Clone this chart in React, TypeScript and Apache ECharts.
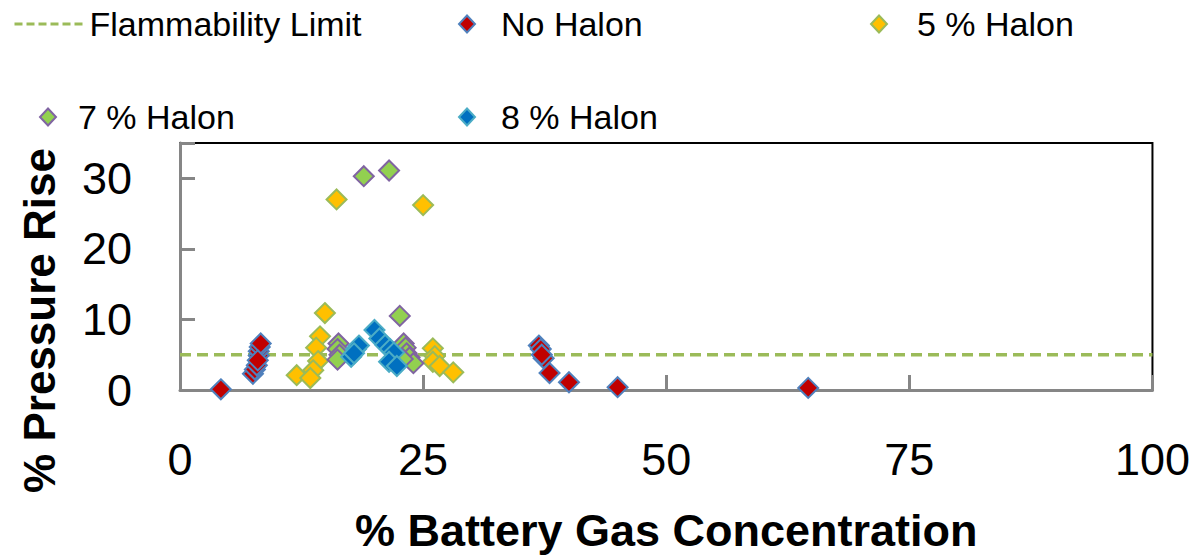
import React, { useEffect, useRef } from "react";
import * as echarts from "echarts";

const flammabilityLimit: [number, number][] = [[0, 5], [100, 5]];

const noHalon: [number, number][] = [
  [4.2, 0.1], [7.5, 2.3], [7.7, 2.9], [7.9, 3.5], [8.1, 4.9], [8.1, 5.5], [8.2, 6.1], [8.3, 6.6], [8.0, 4.2],
  [36.9, 6.3], [37.1, 5.8], [37.4, 4.5], [37.2, 5.0], [38.0, 2.4], [40.0, 1.1], [45.0, 0.4], [64.6, 0.3],
];

const halon5: [number, number][] = [
  [16.1, 27.0], [25.0, 26.2], [14.9, 10.9], [14.4, 7.6], [14.0, 6.0], [14.2, 4.1], [13.7, 2.8], [12.0, 2.1], [13.4, 1.7],
  [26.0, 5.9], [26.2, 4.8], [26.0, 4.0], [26.7, 3.4], [28.1, 2.5],
];

const halon7: [number, number][] = [
  [18.9, 30.3], [21.5, 31.1], [22.6, 10.5], [16.3, 6.6], [16.2, 5.8], [16.4, 5.0], [16.2, 4.3],
  [23.0, 6.6], [23.2, 6.0], [23.3, 5.2], [23.6, 4.6], [24.0, 3.8], [22.9, 4.4],
];

const halon8: [number, number][] = [
  [20.0, 8.5], [20.5, 7.3], [21.1, 6.4], [21.6, 5.8], [22.0, 5.3], [21.5, 4.0], [22.3, 3.4],
  [17.6, 4.7], [18.1, 5.8], [18.4, 6.3], [17.9, 5.2],
];

const seriesNames = ["Flammability Limit", "No Halon", "5 % Halon", "7 % Halon", "8 % Halon"];

const FONT = "'Liberation Sans', Arial, sans-serif";
const GREY = "#868686";

export default function App() {
  const ref = useRef<HTMLDivElement>(null);
  useEffect(() => {
    if (!ref.current) return;
    const chart = echarts.init(ref.current, null, { renderer: "svg" });
    const legendText = { fontFamily: FONT, fontSize: 34, color: "#000" };
    const mkLegend = (name: string, left: number, top: number, w: number, pad: number, extra: any = {}) => ({
      data: [name],
      left,
      top,
      itemWidth: w,
      itemHeight: name === seriesNames[0] ? 14 : 17,
      selectedMode: false,
      textStyle: { ...legendText, padding: [0, 0, 0, pad] },
      ...extra,
    });
    const scatter = (name: string, data: [number, number][], fill: string, border: string) => ({
      name,
      type: "scatter",
      data,
      symbol: "diamond",
      symbolSize: 20,
      itemStyle: { color: fill, borderColor: border, borderWidth: 2, opacity: 1 },
    });
    chart.setOption({
      animation: false,
      textStyle: { fontFamily: FONT },
      legend: [
        mkLegend(seriesNames[0], 8, 2, 70, 0, {
          itemStyle: { opacity: 0 },
          lineStyle: { type: [8, 4], width: 3 },
        }),
        mkLegend(seriesNames[1], 453, 2, 16, 21),
        mkLegend(seriesNames[2], 865, 2, 16, 25),
        mkLegend(seriesNames[3], 34, 95, 16, 17),
        mkLegend(seriesNames[4], 453, 95, 16, 21),
      ],
      grid: {
        left: 180,
        right: 38,
        top: 143,
        bottom: 169,
        show: true,
        borderColor: "#000",
        borderWidth: 2,
      },
      xAxis: {
        type: "value",
        min: 0,
        max: 100,
        interval: 25,
        name: "% Battery Gas Concentration",
        nameLocation: "middle",
        nameGap: 118,
        nameTextStyle: { fontFamily: FONT, fontSize: 45, fontWeight: "bold", color: "#000" },
        axisLine: { show: true, lineStyle: { color: GREY, width: 3 } },
        axisTick: { show: true, inside: true, length: 15, lineStyle: { color: GREY, width: 3 } },
        axisLabel: { fontFamily: FONT, fontSize: 45, color: "#000", margin: 47 },
        splitLine: { show: false },
      },
      yAxis: {
        type: "value",
        min: 0,
        max: 35,
        interval: 10,
        name: "% Pressure Rise",
        nameLocation: "middle",
        nameGap: 119,
        nameTextStyle: {
          fontFamily: FONT,
          fontSize: 44,
          fontWeight: "bold",
          color: "#000",
          padding: [0, 108, 0, 0],
        },
        axisLine: { show: true, lineStyle: { color: GREY, width: 3 } },
        axisTick: { show: true, inside: true, length: 15, lineStyle: { color: GREY, width: 3 } },
        axisLabel: {
          fontFamily: FONT,
          fontSize: 45,
          color: "#000",
          margin: 48,
          formatter: (v: number) => (v % 10 === 0 ? String(v) : ""),
        },
        splitLine: { show: false },
      },
      series: [
        {
          name: seriesNames[0],
          type: "line",
          data: flammabilityLimit,
          symbol: "none",
          lineStyle: { color: "#9BBB59", width: 3.5, type: [11, 6] },
          itemStyle: { color: "#9BBB59" },
          z: 1,
        },
        scatter(seriesNames[1], noHalon, "#C00000", "#4F81BD"),
        scatter(seriesNames[2], halon5, "#FFC000", "#9BBB59"),
        scatter(seriesNames[3], halon7, "#92D050", "#8064A2"),
        scatter(seriesNames[4], halon8, "#0070C0", "#4BACC6"),
      ],
    });
    return () => chart.dispose();
  }, []);
  return <div ref={ref} style={{ width: 1193, height: 559, position: "absolute", left: 0, top: 0 }} />;
}
